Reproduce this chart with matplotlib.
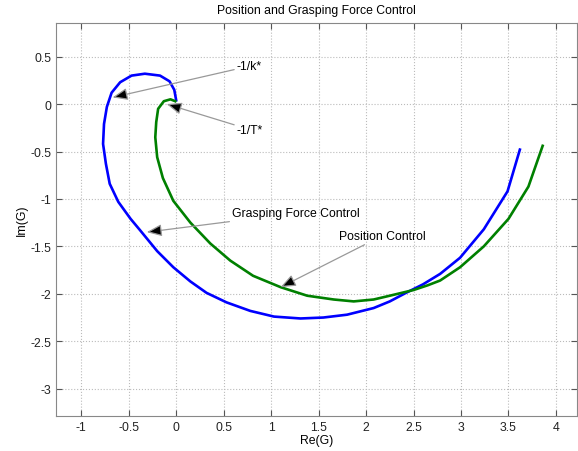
import numpy as np
import matplotlib
matplotlib.use("Agg")
import matplotlib.pyplot as plt

plt.rcParams['font.family'] = ['Liberation Sans', 'DejaVu Sans']
plt.rcParams['font.size'] = 8.8

# Nyquist curves
grasp_re = [0.00, -0.02, -0.07, -0.17, -0.33, -0.47, -0.59, -0.68, -0.73, -0.76,
            -0.77, -0.74, -0.70, -0.61, -0.48, -0.38, -0.20, -0.03, 0.15, 0.32,
            0.53, 0.78, 1.03, 1.31, 1.55, 1.80, 2.08, 2.25, 2.42, 2.60, 2.78,
            2.99, 3.24, 3.49, 3.62]
grasp_im = [0.04, 0.15, 0.24, 0.30, 0.32, 0.30, 0.23, 0.12, -0.03, -0.21,
            -0.42, -0.63, -0.84, -1.03, -1.21, -1.33, -1.55, -1.72, -1.87, -1.99,
            -2.09, -2.18, -2.24, -2.26, -2.25, -2.22, -2.15, -2.08, -1.99, -1.90,
            -1.79, -1.62, -1.32, -0.92, -0.48]

pos_re = [-0.01, -0.06, -0.13, -0.19, -0.21, -0.22, -0.20, -0.14, -0.03, 0.15,
          0.36, 0.57, 0.81, 1.10, 1.38, 1.66, 1.87, 2.08, 2.25, 2.50, 2.65,
          2.78, 2.99, 3.24, 3.50, 3.71, 3.86]
pos_im = [0.03, 0.05, 0.03, -0.05, -0.19, -0.35, -0.56, -0.78, -1.02, -1.25,
          -1.47, -1.65, -1.81, -1.93, -2.02, -2.06, -2.08, -2.06, -2.02,
          -1.96, -1.91, -1.86, -1.72, -1.50, -1.21, -0.87, -0.44]

xticks = [-1, -0.5, 0, 0.5, 1, 1.5, 2, 2.5, 3, 3.5, 4]
yticks = [0.5, 0, -0.5, -1, -1.5, -2, -2.5, -3]

fig = plt.figure(figsize=(5.78, 4.52), dpi=100)
ax = fig.add_axes([0.097, 0.077, 0.901, 0.870])

ax.plot(grasp_re, grasp_im, color='#0000ff', lw=1.9)
ax.plot(pos_re, pos_im, color='#008000', lw=1.9)

ax.set_xlim(-1.265, 4.22)
ax.set_ylim(-3.29, 0.855)
ax.set_xticks(xticks)
ax.set_xticklabels([f'{v:g}' for v in xticks])
ax.set_yticks(yticks)
ax.set_yticklabels([f'{v:g}' for v in yticks])
ax.tick_params(direction='in', top=True, right=True, length=4, color='#555555',
               labelcolor='#222222')
ax.grid(True, ls=':', color='#bbbbbb', lw=0.8)
for s in ax.spines.values():
    s.set_color('#888888')

ax.set_title('Position and Grasping Force Control', fontsize=8.8, pad=7)
ax.set_xlabel('Re(G)', labelpad=1)
ax.set_ylabel('Im(G)', labelpad=2)

arrow = dict(arrowstyle='-|>,head_length=0.7,head_width=0.28',
             edgecolor='#999999', facecolor='black', lw=0.9,
             mutation_scale=13, shrinkA=0, shrinkB=0)
notes = [('-1/k*', (-0.67, 0.07), (0.64, 0.40)),
         ('-1/T*', (-0.10, 0.00), (0.64, -0.27)),
         ('Grasping Force Control', (-0.31, -1.35), (0.59, -1.15)),
         ('Position Control', (1.10, -1.93), (1.71, -1.39))]
for txt, xy, xytext in notes:
    ax.annotate(txt, xy=xy, xytext=xytext, ha='left', va='center',
                arrowprops=arrow)

fig.savefig('out.png', dpi=100)
